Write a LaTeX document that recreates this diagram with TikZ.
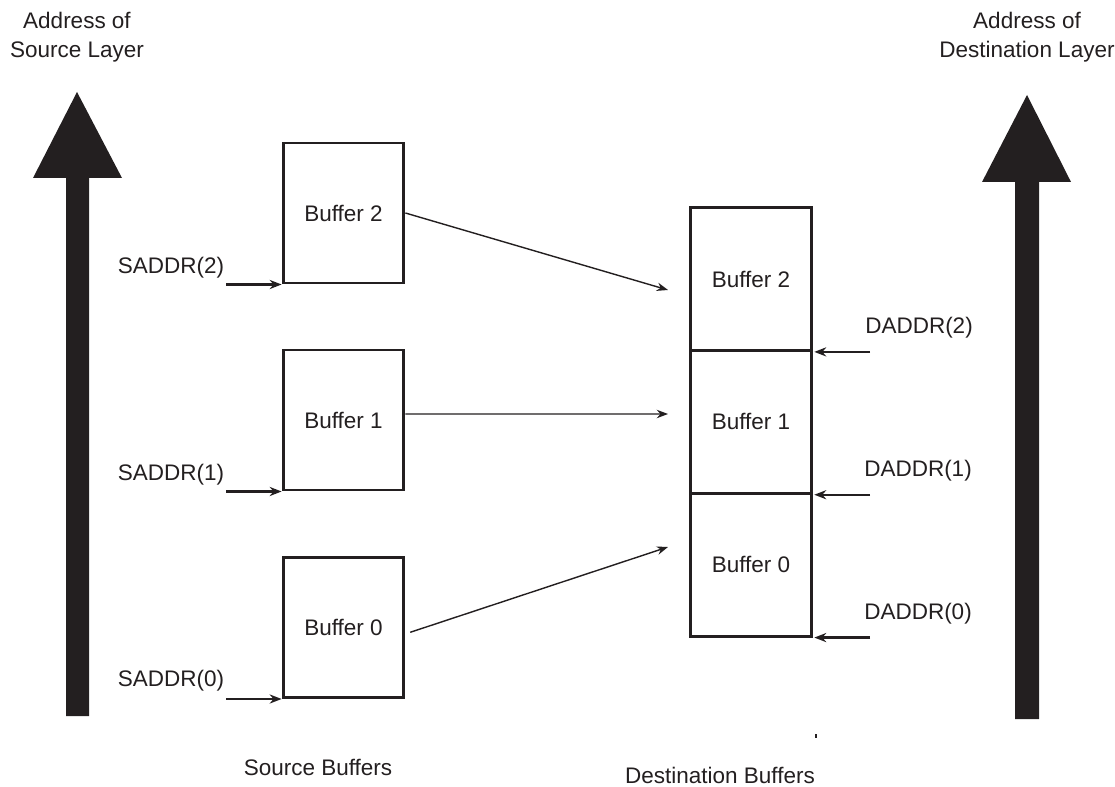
\documentclass[tikz,border=0pt]{standalone}
\usepackage{fontspec}
\setmainfont{Liberation Sans}
\usetikzlibrary{arrows.meta,positioning}
\definecolor{cInk}{HTML}{231F20}
\tikzset{
  buf/.style={rectangle,draw=cInk,line width=2.1pt,minimum width=3.02cm,minimum height=3.5cm,inner sep=0pt,font=\fontsize{16}{19}\selectfont,text=cInk},
  lbl/.style={font=\fontsize{16}{21}\selectfont,text=cInk,align=center,inner sep=0pt},
  conn/.style={-{Stealth[length=8pt,width=6pt]},line width=1pt,cInk},
  addr/.style={-{Stealth[length=8.5pt,width=6.5pt]},line width=1.6pt,cInk},
  bigarr/.style={fill=cInk},
}
\begin{document}
\begin{tikzpicture}[x=0.025cm,y=-0.025cm]
  \useasboundingbox (0,0) rectangle (1115,787);
  % address axes
  \fill[bigarr] (66,716) -- (66,178) -- (33,178) -- (77,92) -- (122,178) -- (89,178) -- (89,716) -- cycle;
  \fill[bigarr] (1015,719) -- (1015,182) -- (982,182) -- (1027,95) -- (1071,182) -- (1039,182) -- (1039,719) -- cycle;
  \node[lbl] (srclayer) at (77,37) {Address of\\Source Layer};
  \node[lbl] (dstlayer) at (1027,37) {Address of\\Destination Layer};
  % source buffers
  \node[buf] (sB2) at (343.5,213) {Buffer 2};
  \node[buf] (sB1) at (343.5,420) {Buffer 1};
  \node[buf] (sB0) at (343.5,627.5) {Buffer 0};
  % destination buffers
  \node[buf,minimum height=3.57cm] (dB2) at (751,279) {Buffer 2};
  \node[buf,minimum height=3.57cm,below=-2.1pt of dB2] (dB1) {Buffer 1};
  \node[buf,minimum height=3.57cm,below=-2.1pt of dB1] (dB0) {Buffer 0};
  % transfers
  \coordinate (t2) at (668,290);
  \coordinate (t1) at (668,414);
  \coordinate (t0) at (668,547);
  \draw[conn] (sB2.east) -- (t2);
  \draw[conn] ([yshift=0.15cm]sB1.east) -- (t1);
  \draw[conn] ([xshift=0.12cm,yshift=-0.12cm]sB0.east) -- (t0);
  % source addresses
  \node[lbl] (sa2) at (171,268) {SADDR(2)};
  \node[lbl] (sa1) at (171,475) {SADDR(1)};
  \node[lbl] (sa0) at (171,681) {SADDR(0)};
  \coordinate (saleft) at (226,0);
  \draw[addr] (sB2.south west -| saleft) -- (sB2.south west);
  \draw[addr] (sB1.south west -| saleft) -- (sB1.south west);
  \draw[addr] (sB0.south west -| saleft) -- (sB0.south west);
  % destination addresses
  \node[lbl] (da2) at (919,328) {DADDR(2)};
  \node[lbl] (da1) at (918,471) {DADDR(1)};
  \node[lbl] (da0) at (918,614) {DADDR(0)};
  \coordinate (daright) at (870,0);
  \draw[addr] (dB2.south east -| daright) -- ([xshift=1pt]dB2.south east);
  \draw[addr] (dB1.south east -| daright) -- ([xshift=1pt]dB1.south east);
  \draw[addr] (dB0.south east -| daright) -- ([xshift=1pt]dB0.south east);
  % captions
  \node[lbl] (srccap) at (318,767) {Source Buffers};
  \node[lbl] (dstcap) at (720,775) {Destination Buffers};
  \draw[cInk,line width=1pt] (816,734) -- (816,738);
\end{tikzpicture}
\end{document}
